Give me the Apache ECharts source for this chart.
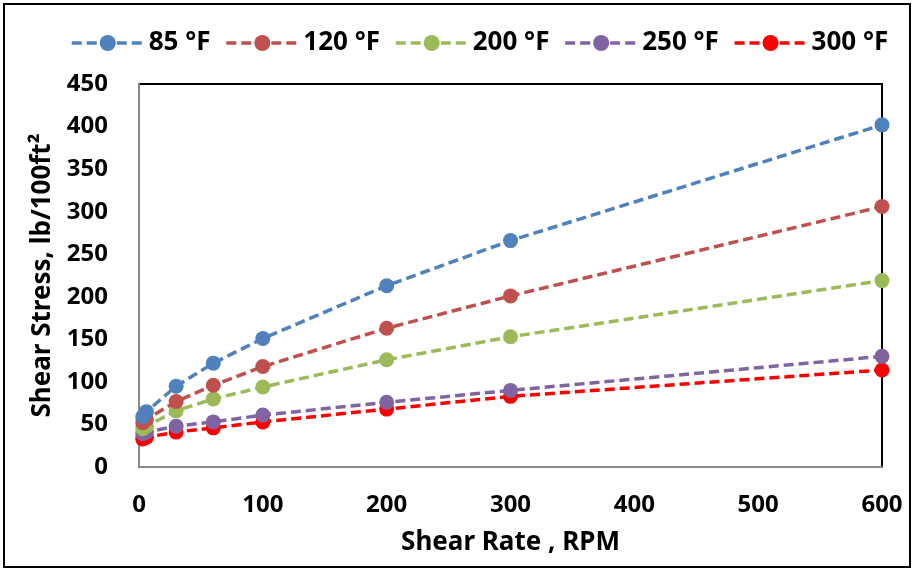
<!DOCTYPE html>
<html><head><meta charset="utf-8">
<script src="https://cdn.jsdelivr.net/npm/echarts@6/dist/echarts.min.js"></script>
<style>html,body{margin:0;padding:0;background:#fff}#c{box-sizing:border-box;border:2px solid #000;position:absolute;left:3px;top:3px;width:908px;height:565px}</style>
</head><body><div id="c"></div>
<script>
const rpm = [3, 6, 30, 60, 100, 200, 300, 600];
const seriesNames = ['85 °F', '120 °F', '200 °F', '250 °F', '300 °F'];
const s85  = [59, 65, 95, 122, 151, 213, 266, 402];
const s120 = [52, 56, 77, 96, 118, 163, 201, 306];
const s200 = [45, 48, 66, 80, 94, 126, 153, 219];
const s250 = [39, 41, 48, 53, 61, 76, 90, 130];
const s300 = [33, 35, 41, 46, 53, 68, 83, 114];
const colors = ['#4F81BD', '#C0504D', '#9BBB59', '#8064A2', '#FF0000'];
const xTicks = [0, 100, 200, 300, 400, 500, 600];
const yTicks = [0, 50, 100, 150, 200, 250, 300, 350, 400, 450];

const all = [s85, s120, s200, s250, s300];
const font = '"Noto Sans", sans-serif';
const chart = echarts.init(document.getElementById('c'));
chart.setOption({
  animation: false,
  color: colors,
  textStyle: {fontFamily: font},
  legend: {
    top: 20, left: 60, itemWidth: 72, itemHeight: 20, itemGap: 14,
    lineStyle: {width: 3.5},
    textStyle: {fontSize: 26, fontWeight: 'bold', color: '#000', fontFamily: font},
    data: seriesNames
  },
  grid: {left: 134, right: 27, top: 79, bottom: 99, show: true, borderColor: '#000', borderWidth: 2, containLabel: false},
  xAxis: {
    type: 'value', min: xTicks[0], max: xTicks[xTicks.length-1], interval: 100,
    name: 'Shear Rate , RPM', nameLocation: 'middle', nameGap: 63,
    nameTextStyle: {fontSize: 26, fontWeight: 'bold', color: '#000', fontFamily: font},
    axisLine: {show: true, lineStyle: {color: '#888', width: 2}},
    axisTick: {show: false}, splitLine: {show: false},
    axisLabel: {fontSize: 24, fontWeight: 'bold', color: '#000', margin: 26, fontFamily: font}
  },
  yAxis: {
    type: 'value', min: yTicks[0], max: yTicks[yTicks.length-1], interval: 50,
    name: 'Shear Stress, lb/100ft²', nameLocation: 'middle', nameGap: 80,
    nameTextStyle: {fontSize: 26, fontWeight: 'bold', color: '#000', fontFamily: font},
    axisLine: {show: true, lineStyle: {color: '#888', width: 2}},
    axisTick: {show: false}, splitLine: {show: false},
    axisLabel: {fontSize: 24, fontWeight: 'bold', color: '#000', margin: 31, fontFamily: font}
  },
  series: seriesNames.map((n, i) => ({
    name: n, type: 'line',
    data: rpm.map((x, j) => [x, all[i][j]]),
    symbol: 'circle', symbolSize: 15,
    lineStyle: {width: 3.5, type: [10, 5], color: colors[i]},
    itemStyle: {color: colors[i]},
    z: 10 - i
  }))
});
</script></body></html>
